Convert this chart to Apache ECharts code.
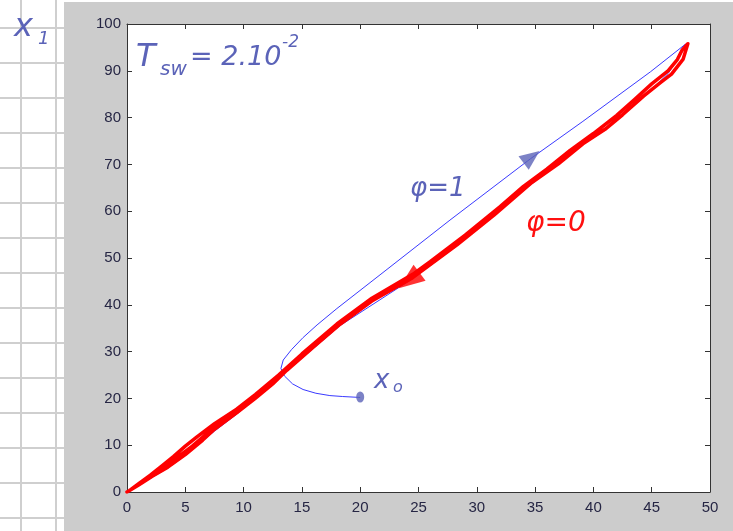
<!DOCTYPE html>
<html>
<head>
<meta charset="utf-8">
<script src="https://cdn.jsdelivr.net/npm/echarts@6/dist/echarts.min.js"></script>
<style>
  html, body { margin: 0; padding: 0; background: #fff; }
  #chart { width: 733px; height: 531px; }
</style>
</head>
<body>
<div id="chart"></div>
<script>
// trajectory with phi = 1 : starts at x0, bends up, then runs to the top corner
const blueUp = [
  [20, 20.2], [18.5, 20.4], [17.4, 20.6], [16.2, 21.1], [15.1, 21.9], [14.2, 23.1],
  [13.5, 24.8], [13.2, 26.4], [13.4, 28.2], [14.1, 30.4], [15.1, 33], [16.3, 35.7],
  [18, 39.2], [21.7, 46.4], [27.7, 58.1], [34.6, 71.2], [39.1, 79.2], [44.9, 89.8],
  [47.9, 95.7]
];
// return part of the blue trajectory, mostly hidden under the red band
const blueBack = [
  [47.9, 95.7], [47.4, 93.0], [46.4, 89.4], [44.3, 84.3], [41, 77.3], [39, 74.1],
  [34.6, 65.6], [28.3, 52.6], [24.5, 45.6], [18.3, 35.6], [13.7, 25.8], [12.5, 23],
  [9.4, 16.6], [7.5, 13], [5, 7.8], [3.5, 5.1], [2, 2.9], [1, 1.3], [0, 0]
];
// trajectory with phi = 0 (switching), drawn as overlapping passes
const redPath = [
  [0, 0], [0.4, 0.6], [1, 1.5], [2.2, 3.4], [3.5, 5.3], [5, 8], [6.5, 11.1], [7.5, 13.4],
  [9.4, 16.9], [11, 20], [12.5, 23.1], [13.7, 26], [16, 31], [18.3, 35.9], [21, 40.8],
  [24.5, 45.8], [28.3, 52.8], [31.5, 59.2], [34.6, 65.9], [37, 70.1], [39.1, 74.4],
  [41, 77.5], [42.5, 80.6], [44.3, 84.6], [45.8, 87.6], [46.7, 89.3], [47.7, 92.5],
  [48.1, 95.8], [47.6, 94.4], [47.2, 92.4], [46.4, 90], [45, 87.2], [43.5, 83.8],
  [42, 80.5], [40, 76.6], [38, 73], [36, 69], [34, 65.3], [32, 61], [29, 54.9],
  [26, 49.2], [24.5, 46.5], [21, 41.4], [18, 35.9], [15, 29.5], [13, 25],
  [11, 20.8], [9.4, 17.7], [7.5, 14.6], [6, 11.8], [5, 9.8], [4, 7.6], [3, 5.6],
  [2, 3.6], [1, 1.8], [0.2, 0.3], [1.2, 1.8], [2.6, 4.3], [4.2, 7.2], [5.6, 9.8],
  [7, 12.8], [8.5, 15.6], [10, 18.6], [12, 22.6], [14, 26.8]
];
const startPoint = [[20, 20.3]];
const blueArrow = [[34.7, 71.6]];
const redArrow = [[24.2, 45.2]];

const inkBlue = '#5b63b8';
const inkRed = '#ff1010';
const hand = 'italic 400 {size}px "DejaVu Sans"';

function handText(x, y, text, size, color) {
  return {
    type: 'text', left: x, top: y, z: 20,
    style: { text: text, fill: color, font: hand.replace('{size}', size) }
  };
}

// grid paper on the left side
const paper = [
  { type: 'rect', shape: { x: 0, y: 0, width: 64, height: 531 }, style: { fill: '#fff' }, z: 0 },
  { type: 'rect', shape: { x: 0, y: 0, width: 733, height: 2 }, style: { fill: '#fff' }, z: 0 }
];
[21, 56].forEach(function (x) {
  paper.push({ type: 'line', shape: { x1: x, y1: 0, x2: x, y2: 531 },
    style: { stroke: '#cfcfcf', lineWidth: 2 }, z: 1 });
});
for (let y = 28; y < 531; y += 35) {
  paper.push({ type: 'line', shape: { x1: 0, y1: y, x2: 64, y2: y },
    style: { stroke: '#cfcfcf', lineWidth: 2 }, z: 1 });
}

const axisLabelStyle = { color: '#262644', fontFamily: 'Liberation Sans', fontSize: 15 };
const axisLine = { show: true, onZero: false, lineStyle: { color: '#333', width: 1 } };

const chart = echarts.init(document.getElementById('chart'));
chart.setOption({
  backgroundColor: '#cccccc',
  animation: false,
  grid: { left: 127, top: 24, right: 23, bottom: 39, show: true, backgroundColor: '#fff', borderWidth: 0 },
  xAxis: [
    { type: 'value', min: 0, max: 50, interval: 5, position: 'bottom',
      axisLine: axisLine, splitLine: { show: false },
      axisTick: { inside: true, length: 5, lineStyle: { color: '#333' } },
      axisLabel: Object.assign({ margin: 8 }, axisLabelStyle) },
    { type: 'value', min: 0, max: 50, interval: 5, position: 'top',
      axisLine: axisLine, splitLine: { show: false },
      axisTick: { inside: true, length: 5, lineStyle: { color: '#333' } },
      axisLabel: { show: false } }
  ],
  yAxis: [
    { type: 'value', min: 0, max: 100, interval: 10, position: 'left',
      axisLine: axisLine, splitLine: { show: false },
      axisTick: { inside: true, length: 5, lineStyle: { color: '#333' } },
      axisLabel: Object.assign({ margin: 6 }, axisLabelStyle) },
    { type: 'value', min: 0, max: 100, interval: 10, position: 'right',
      axisLine: axisLine, splitLine: { show: false },
      axisTick: { inside: true, length: 5, lineStyle: { color: '#333' } },
      axisLabel: { show: false } }
  ],
  series: [
    { type: 'line', data: blueUp.concat(blueBack), symbol: 'none', z: 2,
      lineStyle: { color: '#3a3aff', width: 1 } },
    { type: 'line', data: redPath, symbol: 'none', z: 3,
      lineStyle: { color: '#ff0000', width: 3.5, join: 'round', cap: 'round' } },
    { type: 'scatter', data: startPoint, symbol: 'circle', symbolSize: [8, 11], z: 5,
      itemStyle: { color: inkBlue } },
    { type: 'scatter', data: blueArrow, symbol: 'triangle', symbolSize: [17, 20],
      symbolRotate: -53, z: 5, itemStyle: { color: inkBlue } },
    { type: 'scatter', data: redArrow, symbol: 'triangle', symbolSize: [20, 26],
      symbolRotate: 127, z: 5, itemStyle: { color: '#ff0000' } }
  ],
  graphic: paper.concat([
    handText(14, 12, 'x', 32, inkBlue),
    handText(38, 30, '1', 18, inkBlue),
    handText(136, 42, 'T', 32, inkBlue),
    handText(160, 60, 'sw', 20, inkBlue),
    handText(190, 44, '= 2.10', 27, inkBlue),
    handText(282, 34, '-2', 17, inkBlue),
    handText(374, 368, 'x', 26, inkBlue),
    handText(393, 380, 'o', 16, inkBlue),
    handText(410, 176, 'φ=1', 26, inkBlue),
    handText(526, 210, 'φ=0', 28, inkRed)
  ])
});
</script>
</body>
</html>
